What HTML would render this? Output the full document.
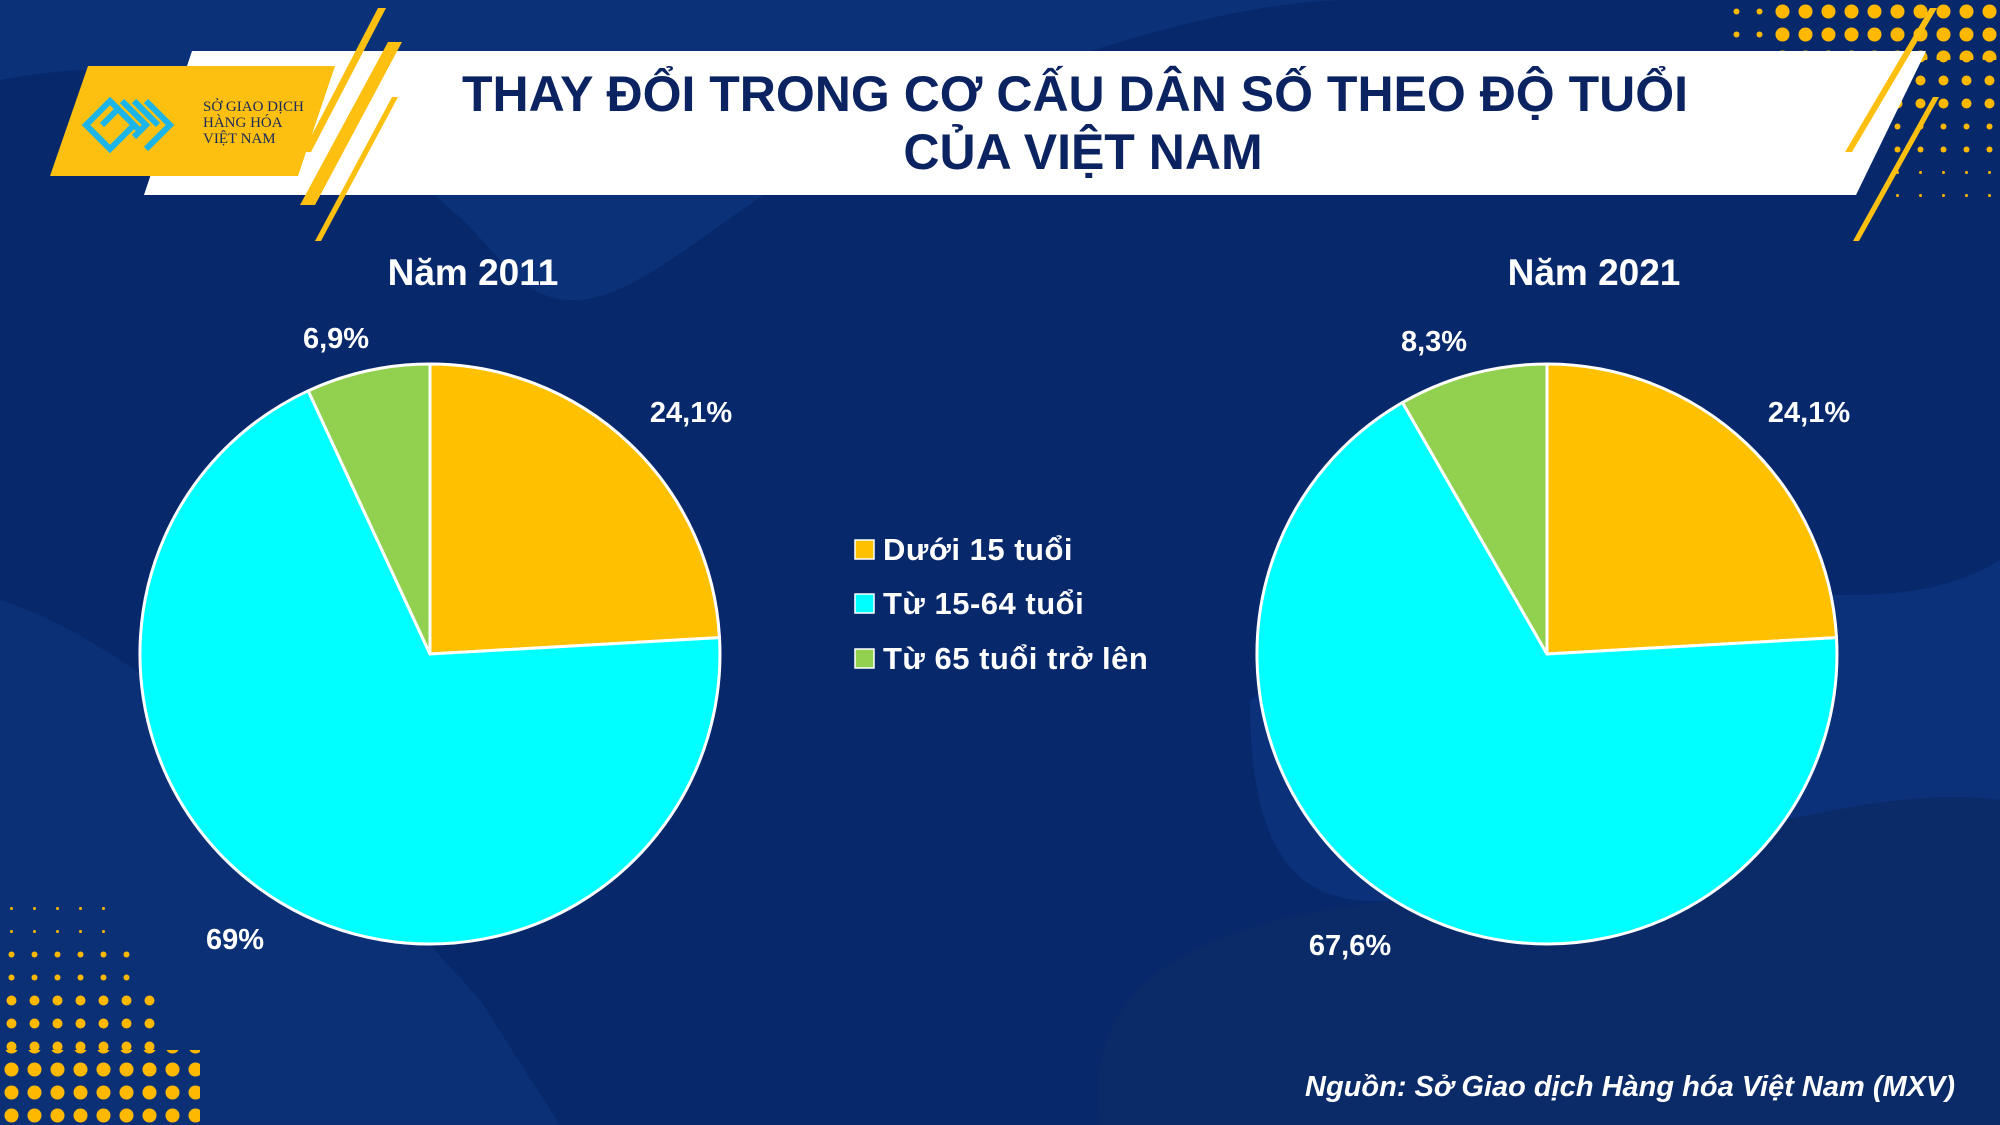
<!DOCTYPE html>
<html><head><meta charset="utf-8"><style>
html,body{margin:0;padding:0;}
body{width:2000px;height:1125px;overflow:hidden;background:#07296c;font-family:"Liberation Sans","DejaVu Sans",sans-serif;}
svg{display:block}
</style></head><body>
<svg width="2000" height="1125" viewBox="0 0 2000 1125" xmlns="http://www.w3.org/2000/svg">
<defs>
<pattern id="d1" width="23" height="23" patternUnits="userSpaceOnUse"><circle cx="11.5" cy="11.5" r="7" fill="#ffb800"/></pattern>
<pattern id="d2" width="23" height="23" patternUnits="userSpaceOnUse"><circle cx="11.5" cy="11.5" r="5" fill="#ffb800"/></pattern>
<pattern id="d3" width="23" height="23" patternUnits="userSpaceOnUse"><circle cx="11.5" cy="11.5" r="3" fill="#ffb800"/></pattern>
<pattern id="d4" width="23" height="23" patternUnits="userSpaceOnUse"><circle cx="11.5" cy="11.5" r="1.5" fill="#ffb800"/></pattern>
</defs>
<rect width="2000" height="1125" fill="#07296c"/>
<path d="M0 80 C200 40 380 120 500 260 C600 380 700 200 900 120 C1100 40 1250 0 1350 0 L0 0Z" fill="#0b3278"/>
<path d="M0 600 C150 650 300 800 480 1000 L560 1125 L0 1125Z" fill="#0b3076"/>
<path d="M1100 1125 C1080 980 1200 920 1400 900 C1650 870 1850 780 2000 790 L2000 1125Z" fill="#0a2a68"/>
<path d="M1250 700 C1350 650 1500 620 1650 600 C1800 580 1900 620 2000 560 L2000 800 C1850 780 1650 870 1400 900 C1300 910 1250 860 1250 700Z" fill="#0d3580" opacity="0.7"/>
<rect x="1770" y="0" width="230" height="60" fill="url(#d1)"/>
<rect x="1830" y="60" width="170" height="60" fill="url(#d2)"/>
<rect x="1870" y="120" width="130" height="45" fill="url(#d3)"/>
<rect x="1890" y="165" width="110" height="40" fill="url(#d4)"/>
<rect x="1720" y="0" width="50" height="60" fill="url(#d3)"/>
<rect x="0" y="1050" width="200" height="75" fill="url(#d1)"/>
<rect x="0" y="990" width="160" height="60" fill="url(#d2)"/>
<rect x="0" y="940" width="130" height="50" fill="url(#d3)"/>
<rect x="0" y="900" width="110" height="40" fill="url(#d4)"/>
<polygon points="192,51 1926,51 1856,195 144,195" fill="#ffffff"/>
<polygon points="88,66 335,66 298,176 50,176" fill="#fdc010"/>
<polygon points="378,8 386,8 311,152 303,152" fill="#fdc010"/>
<polygon points="388,42 402,42 315,205 300,205" fill="#fdc010"/>
<polygon points="392,97 398,97 321,241 315,241" fill="#fdc010"/>
<polygon points="1930,8 1937,8 1852,152 1845,152" fill="#fdc010"/>
<polygon points="1933,97 1939,97 1859,241 1853,241" fill="#fdc010"/>
<g fill="none" stroke="#1bb5ea" stroke-width="6">
<path d="M86 125 L110 101 L134 125 L110 149Z"/>
<path d="M102 125 L118 109 L142 133"/>
<path d="M122 101 L146 125 L134 137"/>
<path d="M146 101 L170 125 L146 149"/>
<path d="M134 101 L158 125"/>
</g>
<text x="203" y="111" font-family="Liberation Serif,serif" font-size="15" fill="#1a2a5a">SỞ GIAO DỊCH</text>
<text x="203" y="127" font-family="Liberation Serif,serif" font-size="15" fill="#1a2a5a">HÀNG HÓA</text>
<text x="203" y="143" font-family="Liberation Serif,serif" font-size="15" fill="#1a2a5a">VIỆT NAM</text>
<text x="1075" y="111" text-anchor="middle" font-size="50" font-weight="bold" fill="#0b2461">THAY ĐỔI TRONG CƠ CẤU DÂN SỐ THEO ĐỘ TUỔI</text>
<text x="1083" y="169" text-anchor="middle" font-size="50" font-weight="bold" fill="#0b2461">CỦA VIỆT NAM</text>
<g stroke="#ffffff" stroke-width="3" stroke-linejoin="round">
<path d="M430 654 L430 364 A290 290 0 0 1 719.5 637.6Z" fill="#ffc000"/>
<path d="M430 654 L719.5 637.6 A290 290 0 1 1 308.2 390.8Z" fill="#00ffff"/>
<path d="M430 654 L308.2 390.8 A290 290 0 0 1 430 364Z" fill="#92d050"/>
<path d="M1547 654 L1547 364 A290 290 0 0 1 1836.5 637.6Z" fill="#ffc000"/>
<path d="M1547 654 L1836.5 637.6 A290 290 0 1 1 1402.5 402.5Z" fill="#00ffff"/>
<path d="M1547 654 L1402.5 402.5 A290 290 0 0 1 1547 364Z" fill="#92d050"/>
</g>
<g fill="#ffffff" font-weight="bold">
<text x="473" y="285" text-anchor="middle" font-size="37">Năm 2011</text>
<text x="1594" y="285" text-anchor="middle" font-size="37">Năm 2021</text>
<g font-size="29" text-anchor="middle">
<text x="336" y="348">6,9%</text>
<text x="691" y="422">24,1%</text>
<text x="235" y="949">69%</text>
<text x="1434" y="351">8,3%</text>
<text x="1809" y="422">24,1%</text>
<text x="1350" y="955">67,6%</text>
</g>
<g font-size="31" letter-spacing="0.5">
<rect x="855" y="540" width="19" height="19" fill="#ffc000" stroke="#fff" stroke-width="1.5"/>
<text x="883" y="560">Dưới 15 tuổi</text>
<rect x="855" y="594" width="19" height="19" fill="#00ffff" stroke="#fff" stroke-width="1.5"/>
<text x="883" y="614">Từ 15-64 tuổi</text>
<rect x="855" y="649" width="19" height="19" fill="#92d050" stroke="#fff" stroke-width="1.5"/>
<text x="883" y="669">Từ 65 tuổi trở lên</text>
</g>
<text x="1955" y="1096" text-anchor="end" font-size="29" font-style="italic">Nguồn: Sở Giao dịch Hàng hóa Việt Nam (MXV)</text>
</g>
</svg>
</body></html>
